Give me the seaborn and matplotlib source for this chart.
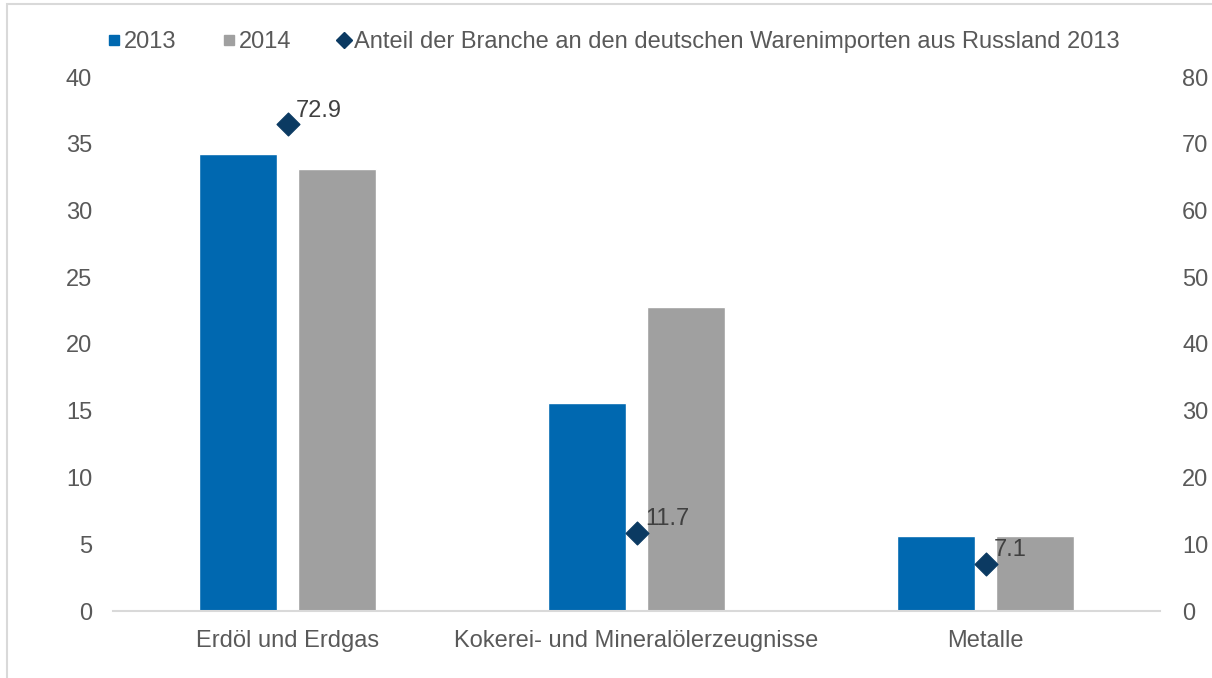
import seaborn as sns
import matplotlib.pyplot as plt
import pandas as pd
from matplotlib.lines import Line2D
from matplotlib.patches import Rectangle

categories = ["Erdöl und Erdgas", "Kokerei- und Mineralölerzeugnisse", "Metalle"]
values_2013 = [34.2, 15.6, 5.6]
values_2014 = [33.1, 22.8, 5.6]
share_2013 = [72.9, 11.7, 7.1]
years = ["2013", "2014"]
share_label = "Anteil der Branche an den deutschen Warenimporten aus Russland 2013"

blue = "#0068b0"
grey = "#a0a0a0"
navy = "#0b3a62"
text_col = "#595959"
fs = 17

df = pd.DataFrame({
    "Branche": categories * 2,
    "Jahr": [years[0]] * 3 + [years[1]] * 3,
    "Wert": values_2013 + values_2014,
})

sns.set_theme(style="white")
plt.rcParams["font.family"] = ["Liberation Sans", "DejaVu Sans"]

fig = plt.figure(figsize=(12.12, 6.78), dpi=100)
ax = fig.add_axes([113 / 1212, 1 - 611 / 678, (1160 - 113) / 1212, (611 - 77) / 678])

sns.barplot(data=df, x="Branche", y="Wert", hue="Jahr", palette=[blue, grey],
            width=0.57, gap=0.216, ax=ax, legend=False, saturation=1)
ax.set_xlim(-0.5, 2.5)
ax.set_ylim(0, 40)
ax.set_yticks(range(0, 41, 5))
ax.set_xlabel("")
ax.set_ylabel("")
for s in ["top", "left", "right"]:
    ax.spines[s].set_visible(False)
ax.spines["bottom"].set_color("#d9d9d9")
ax.spines["bottom"].set_linewidth(1.5)
ax.tick_params(axis="both", length=0, labelsize=fs, colors=text_col)
ax.tick_params(axis="y", pad=15)
ax.tick_params(axis="x", pad=14)

ax2 = ax.twinx()
ax2.set_ylim(0, 80)
ax2.set_yticks(range(0, 81, 10))
sns.scatterplot(x=[0, 1, 2], y=share_2013, marker="D", s=135, color=navy,
                edgecolor=navy, ax=ax2, zorder=5)
for i, v in enumerate(share_2013):
    ax2.annotate(f"{v:.1f}", (i, v), xytext=(6, 2), textcoords="offset points",
                 fontsize=fs, color="#404040", ha="left", va="bottom")
for s in ax2.spines.values():
    s.set_visible(False)
ax2.tick_params(axis="y", length=0, labelsize=fs, colors=text_col, pad=16)
ax2.set_ylabel("")

handles = [
    Line2D([], [], marker="s", color=blue, linestyle="", markersize=7.5),
    Line2D([], [], marker="s", color=grey, linestyle="", markersize=7.5),
    Line2D([], [], marker="D", color=navy, linestyle="", markersize=8.5),
]
fig.legend(handles, years + [share_label], loc="center", ncol=3,
           bbox_to_anchor=(614 / 1212, 1 - 42 / 678), frameon=False,
           fontsize=fs, handlelength=0.5, handletextpad=0.15, columnspacing=2.0,
           labelcolor=text_col)

fig.patches.append(Rectangle((7 / 1212, -0.1), 1.2, 1.1 - 4 / 678, transform=fig.transFigure,
                             fill=False, edgecolor="#d9d9d9", linewidth=1.5))

plt.savefig("out.png", dpi=100)
